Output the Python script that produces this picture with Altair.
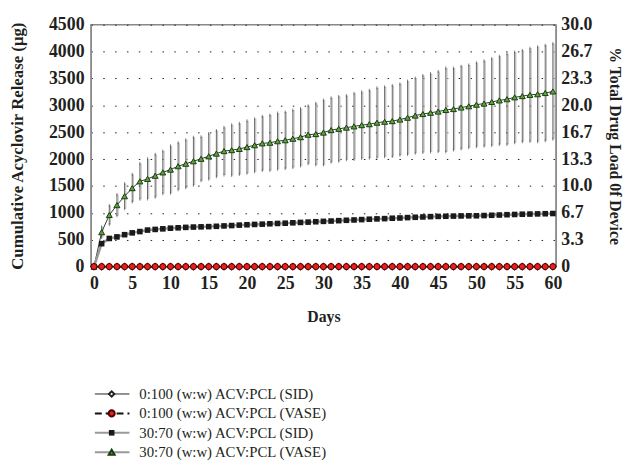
import altair as alt
import pandas as pd

days = list(range(61))

vase_30_mean = [0, 640, 960, 1144, 1310, 1460, 1586, 1632, 1690, 1753, 1805,
                1868, 1914, 1960, 2006, 2052, 2103, 2149, 2167, 2190, 2224,
                2259, 2293, 2305, 2333, 2351, 2379, 2408, 2454, 2466, 2494,
                2540, 2563, 2586, 2609, 2632, 2649, 2678, 2695, 2707, 2736,
                2770, 2810, 2839, 2862, 2885, 2914, 2931, 2960, 2983, 3012,
                3034, 3063, 3092, 3115, 3149, 3172, 3195, 3207, 3230, 3259]
vase_30_err = [0, 100, 178, 200, 236, 258, 334, 374, 400, 396, 442,
               437, 448, 448, 410, 425, 431, 443, 471, 477, 489,
               494, 506, 517, 523, 528, 535, 535, 540, 574, 604,
               600, 604, 598, 615, 621, 633, 650, 650, 661, 666,
               684, 701, 718, 730, 747, 782, 764, 770, 770, 781,
               794, 811, 822, 845, 845, 851, 868, 885, 890, 890]
sid_30_mean = [0, 427, 524, 553, 594, 628, 652, 680, 692, 703, 715,
               722, 730, 736, 740, 744, 750, 757, 764, 772, 779,
               785, 790, 797, 803, 808, 815, 822, 828, 835, 842,
               848, 855, 862, 868, 875, 882, 888, 893, 900, 905,
               912, 918, 924, 930, 934, 937, 940, 943, 945, 946,
               950, 955, 960, 966, 970, 975, 978, 981, 984, 988]
sid_0_mean = [0] * 61
vase_0_mean = [0] * 61

legend_labels = ["0:100 (w:w) ACV:PCL (SID)", "0:100 (w:w) ACV:PCL (VASE)",
                 "30:70 (w:w) ACV:PCL (SID)", "30:70 (w:w) ACV:PCL (VASE)"]
x_ticks = list(range(0, 61, 5))
y_ticks = list(range(0, 4501, 500))
pct_ticks = [0, 10 / 3, 20 / 3, 10, 40 / 3, 50 / 3, 20, 70 / 3, 80 / 3, 30]

FONT = "Liberation Serif"
YTITLE = "Cumulative Acyclovir Release (μg)"
INK = "#231f20"

vase30 = pd.DataFrame({"day": days, "v": vase_30_mean, "err": vase_30_err})
vase30["lo"] = vase30["v"] - vase30["err"]
vase30["hi"] = vase30["v"] + vase30["err"]
sid30 = pd.DataFrame({"day": days, "v": sid_30_mean})
sid0 = pd.DataFrame({"day": days, "v": sid_0_mean})
vase0 = pd.DataFrame({"day": days, "v": vase_0_mean})

X = alt.X("day:Q", scale=alt.Scale(domain=[-0.4, 60.4], nice=False, zero=False),
          axis=alt.Axis(values=x_ticks, title="Days", grid=False, ticks=False,
                        domainColor="#888", labelPadding=8, titlePadding=17,
                        labelFlush=False))


def Y(field):
    return alt.Y(field, type="quantitative",
                 scale=alt.Scale(domain=[0, 4500], nice=False),
                 axis=alt.Axis(values=y_ticks, title=YTITLE, grid=True, format="d",
                               gridDash=[1.5, 10.5], gridColor="#222",
                               ticks=False, domainColor="#888", labelPadding=7,
                               titlePadding=22, labelFlush=False,
                               titleFontSize=17))


err_light = alt.Chart(vase30).mark_rule(color="#c4c4c4", strokeWidth=1.2, xOffset=1.2).encode(
    x=X, y=Y("lo"), y2="hi")
err_dark = alt.Chart(vase30).mark_rule(color="#555", strokeWidth=0.9).encode(
    x=X, y=Y("lo"), y2="hi")
cap_hi = alt.Chart(vase30).mark_tick(color="#555", size=3, thickness=1).encode(
    x=X, y=Y("hi"))
cap_lo = alt.Chart(vase30).mark_tick(color="#555", size=3, thickness=1).encode(
    x=X, y=Y("lo"))
green_line = alt.Chart(vase30).mark_line(color="#333", strokeWidth=1).encode(x=X, y=Y("v"))
green_pts = alt.Chart(vase30).mark_point(shape="triangle-up", filled=True, fill="#5aa83c",
                                         stroke="#1a3a10", strokeWidth=1, size=36,
                                         opacity=1).encode(x=X, y=Y("v"))
sq_line = alt.Chart(sid30).mark_line(color="#999", strokeWidth=2.5).encode(x=X, y=Y("v"))
sq_pts = alt.Chart(sid30).mark_point(shape="square", filled=True, fill="#1a1a1a",
                                     size=32, opacity=1).encode(x=X, y=Y("v"))
dia_line = alt.Chart(sid0).mark_line(color="#222", strokeWidth=1).encode(x=X, y=Y("v"))
dia_pts = alt.Chart(sid0).mark_point(shape="diamond", filled=True, fill="white",
                                     stroke="#222", size=30, opacity=1).encode(x=X, y=Y("v"))
red_line = alt.Chart(vase0).mark_line(color="#111", strokeWidth=2,
                                      strokeDash=[7, 4]).encode(x=X, y=Y("v"))
red_pts = alt.Chart(vase0).mark_point(shape="circle", filled=True, fill="#e8201c",
                                      stroke="#4a0000", strokeWidth=1, size=38,
                                      opacity=1).encode(x=X, y=Y("v"))

main = alt.layer(err_light, err_dark, cap_hi, cap_lo, green_line, green_pts,
                 sq_line, sq_pts, dia_line, dia_pts, red_line, red_pts)

pct = pd.DataFrame({"p": [0, 30]})
right = alt.Chart(pct).mark_point(opacity=0).encode(
    y=alt.Y("p:Q", scale=alt.Scale(domain=[0, 30], nice=False),
            axis=alt.Axis(orient="right", values=pct_ticks, grid=False, ticks=False,
                          labelExpr="datum.value == 0 ? '0' : format(datum.value, '.1f')",
                          title="% Total Drug Load 0f Device", domainColor="#888",
                          labelPadding=5, titlePadding=15, labelFlush=False,
                          titleFontSize=16)))

leg = pd.DataFrame({"label": legend_labels})
LY = alt.Y("label:N", scale=alt.Scale(type="point", domain=legend_labels,
                                      range=[374, 433], padding=0), axis=None)


def leg_rule(i, **kw):
    return alt.Chart(leg).transform_filter(
        alt.datum.label == legend_labels[i]).mark_rule(**kw).encode(
        x=alt.value(4), x2=alt.value(39), y=LY)


def leg_pt(i, **kw):
    return alt.Chart(leg).transform_filter(
        alt.datum.label == legend_labels[i]).mark_point(opacity=1, **kw).encode(
        x=alt.value(21), y=LY)


legend = alt.layer(
    leg_rule(0, color="#222", strokeWidth=1),
    leg_pt(0, shape="diamond", filled=True, fill="white", stroke="#222", size=30),
    leg_rule(1, color="#111", strokeWidth=2, strokeDash=[7, 4]),
    leg_pt(1, shape="circle", filled=True, fill="#e8201c", stroke="#4a0000", size=38),
    leg_rule(2, color="#999", strokeWidth=2),
    leg_pt(2, shape="square", filled=True, fill="#1a1a1a", size=32),
    leg_rule(3, color="#999", strokeWidth=2),
    leg_pt(3, shape="triangle-up", filled=True, fill="#5aa83c", stroke="#1a3a10", size=36),
    alt.Chart(leg).mark_text(align="left", baseline="middle", font=FONT, fontSize=15,
                             color=INK).encode(x=alt.value(49), y=LY, text="label:N"),
)

chart = alt.layer(main, right, legend).resolve_scale(y="independent").properties(
    width=471, height=245,
    autosize=alt.AutoSizeParams(type="none"),
    padding={"left": 84, "top": 14, "right": 74, "bottom": 199},
).configure_view(stroke="#888", strokeWidth=1.5).configure_axis(
    labelFont=FONT, labelFontWeight="bold", labelFontSize=18, labelColor=INK,
    titleFont=FONT, titleFontWeight="bold", titleFontSize=16, titleColor=INK,
)

chart.save("out.html", embed_options={"renderer": "svg", "actions": False})
